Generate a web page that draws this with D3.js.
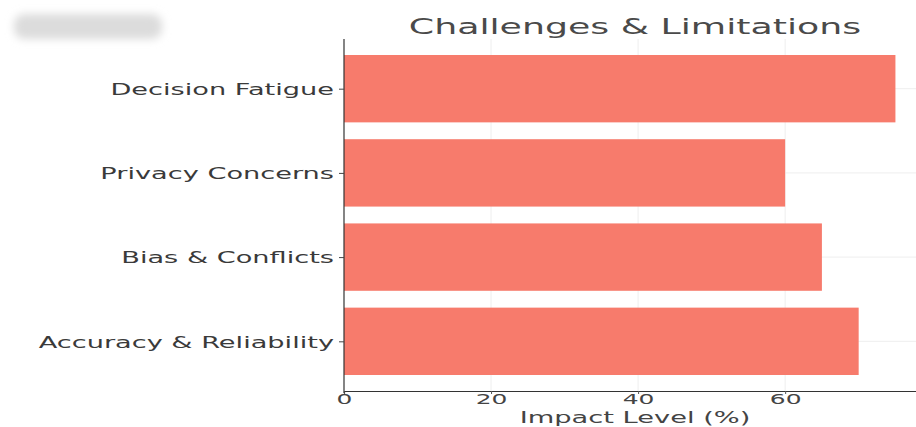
<!DOCTYPE html>
<html>
<head>
<meta charset="utf-8">
<script src="https://cdn.jsdelivr.net/npm/d3@7"></script>
<style>
  html, body { margin: 0; padding: 0; background: #fff; }
  svg { display: block; }
</style>
</head>
<body>
<svg id="chart" width="916" height="427"></svg>
<script>
// Impact of each challenge, in percent
const categories = ["Accuracy & Reliability", "Bias & Conflicts", "Privacy Concerns", "Decision Fatigue"];
const impactValues = [70, 65, 60, 75];
const xTickValues = [0, 20, 40, 60];
const chartTitle = "Challenges & Limitations";
const xAxisLabel = "Impact Level (%)";

const SX = 1.7; // horizontal stretch applied to all lettering
const plot = { left: 344, right: 923, top: 39, bottom: 391 };
const barColor = "#f77b6c";
const font = "DejaVu Sans, sans-serif";

const svg = d3.select("#chart");

// Soft grey smudge in the upper-left corner
const defs = svg.append("defs");
defs.append("filter").attr("id", "soft")
  .attr("x", "-30%").attr("y", "-60%").attr("width", "160%").attr("height", "220%")
  .append("feGaussianBlur").attr("stdDeviation", 4);
svg.append("rect")
  .attr("x", 14).attr("y", 14).attr("width", 148).attr("height", 25)
  .attr("rx", 10).attr("fill", "#dcdcdc").attr("filter", "url(#soft)");

const x = d3.scaleLinear()
  .domain([0, d3.max(impactValues) * 1.05])
  .range([plot.left, plot.right]);

// Categorical axis with matplotlib-style margins (bar width 0.8, 5% padding)
const n = categories.length;
const yLin = d3.scaleLinear()
  .domain([-0.4 - 0.05 * (n - 0.2), n - 1 + 0.4 + 0.05 * (n - 0.2)])
  .range([plot.bottom, plot.top]);
const barH = Math.abs(yLin(0.8) - yLin(0));

// Grid lines
const grid = svg.append("g").attr("stroke", "#eeeeee").attr("stroke-width", 1);
grid.selectAll("line.v").data(xTickValues.filter(d => d > 0)).join("line")
  .attr("x1", d => x(d)).attr("x2", d => x(d))
  .attr("y1", plot.top).attr("y2", plot.bottom);
grid.selectAll("line.h").data(categories).join("line")
  .attr("x1", plot.left).attr("x2", plot.right)
  .attr("y1", (d, i) => yLin(i)).attr("y2", (d, i) => yLin(i));

// Bars
svg.append("g").selectAll("rect").data(categories).join("rect")
  .attr("x", x(0))
  .attr("y", (d, i) => yLin(i) - barH / 2)
  .attr("width", (d, i) => x(impactValues[i]) - x(0))
  .attr("height", barH)
  .attr("fill", barColor);

// Bottom axis
const xAxis = svg.append("g")
  .attr("transform", `translate(0,${plot.bottom})`)
  .call(d3.axisBottom(x).tickValues(xTickValues).tickSize(3).tickPadding(0).tickFormat(d3.format("d")));
xAxis.select(".domain").attr("stroke", "#333").attr("stroke-width", 1.2);
xAxis.selectAll(".tick line").attr("stroke", "#555");
xAxis.selectAll(".tick text")
  .attr("font-family", font).attr("font-size", 14).attr("fill", "#444")
  .attr("transform", `scale(1.78,1)`);

// Left axis
const yAxis = svg.append("g")
  .attr("transform", `translate(${plot.left},0)`)
  .call(d3.axisLeft(d3.scaleOrdinal().domain(categories).range(categories.map((d, i) => yLin(i))))
    .tickSize(5).tickPadding(0));
yAxis.select(".domain").attr("stroke", "#333").attr("stroke-width", 1.2)
  .attr("d", `M0,${plot.top}V${plot.bottom + 2}`);
yAxis.selectAll(".tick line").attr("stroke", "#444");
yAxis.selectAll(".tick text")
  .attr("font-family", font).attr("font-size", 16).attr("fill", "#3a3a3a")
  .attr("x", -10 / SX).attr("dy", "0.36em")
  .attr("transform", `scale(${SX},1)`);

// Title and axis label
const cx = 635;
svg.append("text")
  .attr("transform", `translate(${cx},34) scale(1.65,1)`)
  .attr("text-anchor", "middle")
  .attr("font-family", font).attr("font-size", 22).attr("fill", "#4a4a4a")
  .text(chartTitle);
svg.append("text")
  .attr("transform", `translate(${cx},423) scale(1.76,1)`)
  .attr("text-anchor", "middle")
  .attr("font-family", font).attr("font-size", 15.5).attr("fill", "#444")
  .text(xAxisLabel);
</script>
</body>
</html>
